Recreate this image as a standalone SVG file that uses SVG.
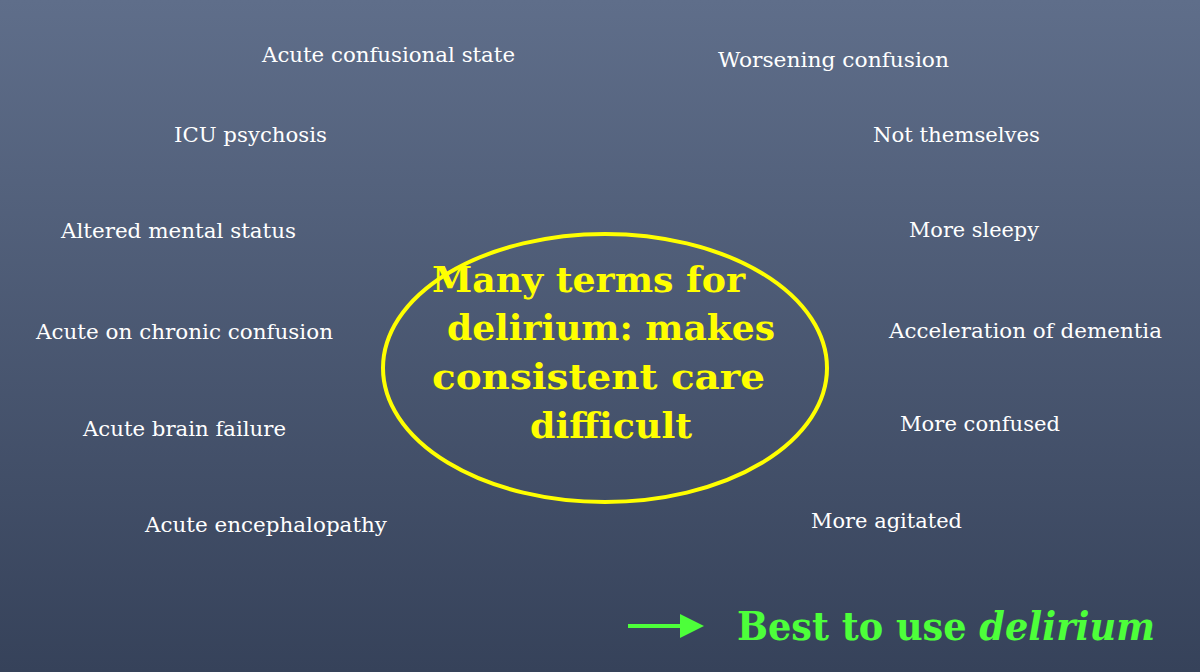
<svg xmlns="http://www.w3.org/2000/svg" width="1200" height="672" viewBox="0 0 1200 672">
<defs>
<linearGradient id="bg" x1="0" y1="0" x2="0" y2="1">
<stop offset="0" stop-color="#5f6e8a"/><stop offset="1" stop-color="#36425a"/>
</linearGradient>
<marker id="ah" markerWidth="6" markerHeight="6" refX="5" refY="3" orient="auto" markerUnits="strokeWidth"><path d="M0,0 L6,3 L0,6 Z" fill="#4dff3a"/></marker>
<style>
.t{font-family:"DejaVu Serif","Liberation Serif",serif;font-size:21px;fill:#ffffff}
.c{font-family:"DejaVu Serif","Liberation Serif",serif;font-size:36px;font-weight:bold;fill:#ffff00}
.g{font-family:"DejaVu Serif","Liberation Serif",serif;font-size:39px;font-weight:bold;fill:#4dff3a}
</style>
</defs>
<rect width="1200" height="672" fill="url(#bg)"/>
<g id="left">
<text class="t" x="262" y="62" textLength="253" lengthAdjust="spacingAndGlyphs">Acute confusional state</text>
<text class="t" x="174" y="142" textLength="153" lengthAdjust="spacingAndGlyphs">ICU psychosis</text>
<text class="t" x="61" y="238" textLength="235" lengthAdjust="spacingAndGlyphs">Altered mental status</text>
<text class="t" x="36" y="339" textLength="297" lengthAdjust="spacingAndGlyphs">Acute on chronic confusion</text>
<text class="t" x="83" y="436" textLength="203" lengthAdjust="spacingAndGlyphs">Acute brain failure</text>
<text class="t" x="145" y="532" textLength="242" lengthAdjust="spacingAndGlyphs">Acute encephalopathy</text>
</g>
<g id="right">
<text class="t" x="718" y="67" textLength="231" lengthAdjust="spacingAndGlyphs">Worsening confusion</text>
<text class="t" x="873" y="142" textLength="167" lengthAdjust="spacingAndGlyphs">Not themselves</text>
<text class="t" x="909" y="237" textLength="130" lengthAdjust="spacingAndGlyphs">More sleepy</text>
<text class="t" x="889" y="338" textLength="273" lengthAdjust="spacingAndGlyphs">Acceleration of dementia</text>
<text class="t" x="900" y="431" textLength="160" lengthAdjust="spacingAndGlyphs">More confused</text>
<text class="t" x="811" y="528" textLength="151" lengthAdjust="spacingAndGlyphs">More agitated</text>
</g>
<g id="center">
<ellipse cx="605" cy="368" rx="222" ry="134" fill="none" stroke="#ffff00" stroke-width="4"/>
<text class="c" x="432" y="292" textLength="313" lengthAdjust="spacingAndGlyphs">Many terms for</text>
<text class="c" x="447" y="340" textLength="328" lengthAdjust="spacingAndGlyphs">delirium: makes</text>
<text class="c" x="432" y="389" textLength="333" lengthAdjust="spacingAndGlyphs">consistent care</text>
<text class="c" x="530" y="438" textLength="162" lengthAdjust="spacingAndGlyphs">difficult</text>
</g>
<g id="connectors">
<line x1="628" y1="626" x2="700" y2="626" stroke="#4dff3a" stroke-width="4" marker-end="url(#ah)"/>
</g>
<g id="note">
<text class="g" x="737" y="640" textLength="418" lengthAdjust="spacingAndGlyphs">Best to use <tspan font-style="italic">delirium</tspan></text>
</g>
</svg>
